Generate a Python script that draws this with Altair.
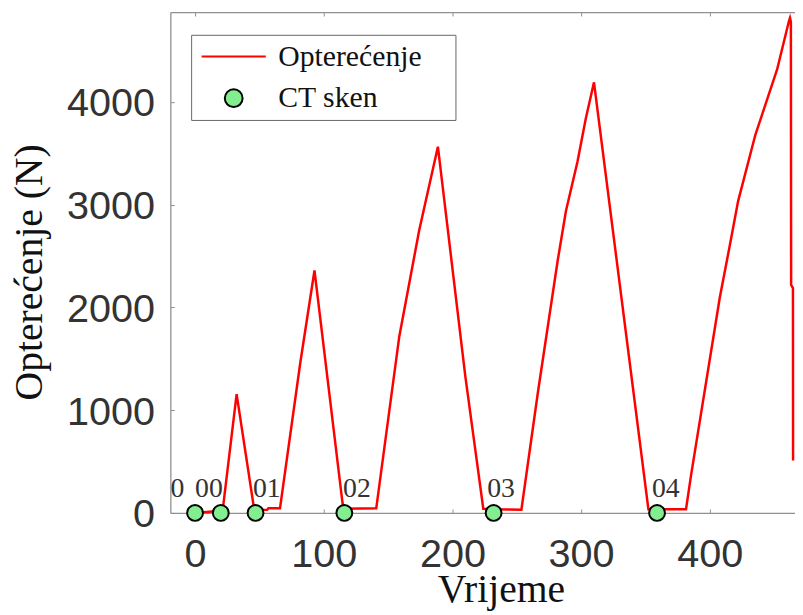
import altair as alt
import pandas as pd

# ---- data ----
time_s = [0, 20, 21.5, 32.3, 46.0, 56.0, 57.0, 66.0, 81.8, 92.8, 114.6, 115.6,
          140.8, 158.7, 174.1, 188.7, 210.0, 224.0, 232.0, 253.6, 266.4, 274.1,
          281.8, 288.2, 297.2, 303.6, 310.0, 352.3, 359.0, 381.5, 385.4, 395.0,
          407.7, 415.0, 422.0, 435.4, 452.3, 461.5, 462.3, 463.0, 463.2, 464.6, 464.7]
load_n = [0, 22, 30, 1157, 30, 30, 45, 45, 1465, 2361, 96, 40,
          45, 1719, 2747, 3566, 1333, 40, 35, 32, 1173, 1815,
          2458, 2940, 3422, 3839, 4193, 35, 35, 35, 366, 1110,
          2092, 2570, 3036, 3682, 4318, 4790, 4820, 4780, 2220, 2190, 510]

ct_time = [0, 20, 47, 116, 232, 359]
ct_load = [0, 0, 0, 0, 0, 0]
ct_labels = ["0", "00", "01", "02", "03", "04"]
ct_label_x = [-19, 0, 45, 115, 227, 355]
ct_label_y = [155, 155, 155, 155, 155, 155]

x_ticks = [0, 100, 200, 300, 400]
y_ticks = [0, 1000, 2000, 3000, 4000]
series_names = ["Opterećenje", "CT sken"]

W, H = 631, 506
x_domain = [-19.2, 466.2]
y_domain = [0, 4877]

line_df = pd.DataFrame({"t": time_s, "F": load_n})
ct_df = pd.DataFrame({"t": ct_time, "F": ct_load, "series": series_names[1]})
lab_df = pd.DataFrame({"t": ct_label_x, "F": ct_label_y, "lab": ct_labels})

xs = alt.Scale(domain=x_domain, nice=False, zero=False)
ys = alt.Scale(domain=y_domain, nice=False, zero=False)

AX_COL = "#909090"
LAB_COL = "#333333"
TITLE_COL = "#111111"

main_x = alt.Axis(orient="bottom", values=x_ticks, title="Vrijeme", grid=False,
                  ticks=False, tickSize=0, domainColor=AX_COL, domainWidth=1.3,
                  labelFont="Liberation Sans", labelFontSize=40, labelColor=LAB_COL,
                  labelPadding=22, labelFlush=False, labelOverlap=False, format="d",
                  titleFont="Liberation Serif", titleFontSize=40, titleFontWeight="normal",
                  titleColor=TITLE_COL, titleX=334, titleY=89,
                  titleBaseline="alphabetic", titleAlign="center")
main_y = alt.Axis(orient="left", values=y_ticks, title="Opterećenje (N)", grid=False,
                  ticks=False, tickSize=0, domainColor=AX_COL, domainWidth=1.3,
                  labelFont="Liberation Sans", labelFontSize=40, labelColor=LAB_COL,
                  labelPadding=16, labelOffset=2, labelFlush=False, labelOverlap=False,
                  format="d",
                  titleFont="Liberation Serif", titleFontSize=40, titleFontWeight="normal",
                  titleColor=TITLE_COL, titleAngle=270, titleX=-130, titleY=262.5,
                  titleBaseline="alphabetic", titleAlign="center")
top_x = alt.Axis(orient="bottom", offset=-H, values=x_ticks, title=None, grid=False,
                 labels=False, ticks=True, tickSize=4, tickColor=AX_COL,
                 domain=True, domainColor=AX_COL, domainWidth=1.3)
in_y = alt.Axis(orient="right", offset=-W, values=y_ticks, title=None, grid=False,
                labels=False, ticks=True, tickSize=4, tickColor=AX_COL, domain=False)
in_x = alt.Axis(orient="top", offset=-H, values=x_ticks, title=None, grid=False,
                labels=False, ticks=True, tickSize=4, tickColor=AX_COL, domain=False)

stroke_scale = alt.Scale(domain=series_names, range=["#ff0000", "#000000"])
fill_scale = alt.Scale(domain=series_names, range=["transparent", "#82EE90"])
shape_scale = alt.Scale(domain=series_names, range=["M-3.6,0H3.6", "circle"])

leg = alt.Legend(title="\u00a0", titleOrient="right", titlePadding=30, titleFontSize=10,
                 orient="none", legendX=21, legendY=23, padding=4,
                 clipHeight=36, rowPadding=6, symbolSize=324, symbolStrokeWidth=2,
                 symbolOffset=24, labelOffset=30,
                 labelFont="Liberation Serif", labelFontSize=30, labelColor=TITLE_COL,
                 labelLimit=600, strokeColor="#666666", fillColor="white",
                 symbolFillColor="white", symbolStrokeColor="black")

line = alt.Chart(line_df).mark_line(strokeWidth=2.5, color="#ff0000").encode(
    x=alt.X("t:Q", scale=xs, axis=main_x),
    y=alt.Y("F:Q", scale=ys, axis=main_y),
    order=alt.Order("t:Q"),
)

points = alt.Chart(ct_df).mark_point(filled=True, size=256, strokeWidth=2, opacity=1).encode(
    x=alt.X("t:Q", scale=xs, axis=top_x),
    y=alt.Y("F:Q", scale=ys, axis=in_y),
    stroke=alt.Stroke("series:N", scale=stroke_scale, legend=leg),
    fill=alt.Fill("series:N", scale=fill_scale, legend=leg),
    shape=alt.Shape("series:N", scale=shape_scale, legend=leg),
)

labels = alt.Chart(lab_df).mark_text(align="left", baseline="alphabetic",
                                     font="Liberation Serif", fontSize=28,
                                     color=LAB_COL).encode(
    x=alt.X("t:Q", scale=xs, axis=in_x),
    y=alt.Y("F:Q", scale=ys, axis=None),
    text="lab:N",
)

chart = alt.layer(line, points, labels).resolve_axis(
    x="independent", y="independent"
).properties(
    width=W, height=H,
    autosize=alt.AutoSizeParams(type="none"),
    padding={"left": 164, "top": 1, "right": 0, "bottom": 100},
    background="white",
).configure_view(strokeWidth=0)

chart.save("out.html", embed_options={"renderer": "svg", "actions": False})
